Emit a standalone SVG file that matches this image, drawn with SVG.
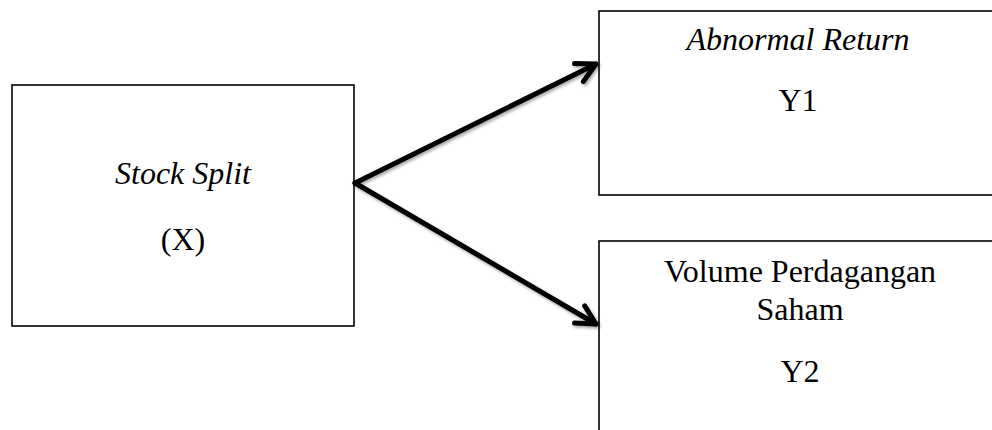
<svg xmlns="http://www.w3.org/2000/svg" width="992" height="430" viewBox="0 0 992 430">
  <style>
    .box { fill: #ffffff; stroke: #000000; stroke-width: 1.6; }
    .t { font-family: "Liberation Serif", "Times New Roman", serif; font-size: 32px; fill: #000000; text-anchor: middle; }
    .i { font-style: italic; }
    .conn { fill: none; stroke: #000000; stroke-width: 5; stroke-linecap: round; }
  </style>
  <defs>
    <filter id="shadow" x="-10%" y="-10%" width="130%" height="130%">
      <feDropShadow dx="1.5" dy="2" stdDeviation="1.5" flood-color="#000000" flood-opacity="0.35"/>
    </filter>
    <marker id="arrow" markerUnits="userSpaceOnUse" markerWidth="40" markerHeight="40" viewBox="-30 -20 40 40" refX="0" refY="0" orient="auto">
      <path d="M-19,-10 L0,0 L-19,10" fill="none" stroke="#000000" stroke-width="5" stroke-linecap="round" stroke-linejoin="round"/>
    </marker>
  </defs>
  <rect width="992" height="430" fill="#ffffff"/>

  <g id="node-x">
    <rect class="box" x="12" y="85" width="342" height="241"/>
    <text class="t i" x="183" y="184">Stock Split</text>
    <text class="t" x="183" y="250">(X)</text>
  </g>

  <g id="node-y1">
    <rect class="box" x="599" y="11" width="400" height="184"/>
    <text class="t i" x="798" y="50">Abnormal Return</text>
    <text class="t" x="798" y="111">Y1</text>
  </g>

  <g id="node-y2">
    <rect class="box" x="599" y="241" width="400" height="200"/>
    <text class="t" x="800" y="282">Volume Perdagangan</text>
    <text class="t" x="800" y="320">Saham</text>
    <text class="t" x="800" y="382">Y2</text>
  </g>

  <g id="connectors" filter="url(#shadow)">
    <path class="conn" d="M355,183 L596,64" marker-end="url(#arrow)"/>
    <path class="conn" d="M355,183 L596,324" marker-end="url(#arrow)"/>
  </g>
</svg>
